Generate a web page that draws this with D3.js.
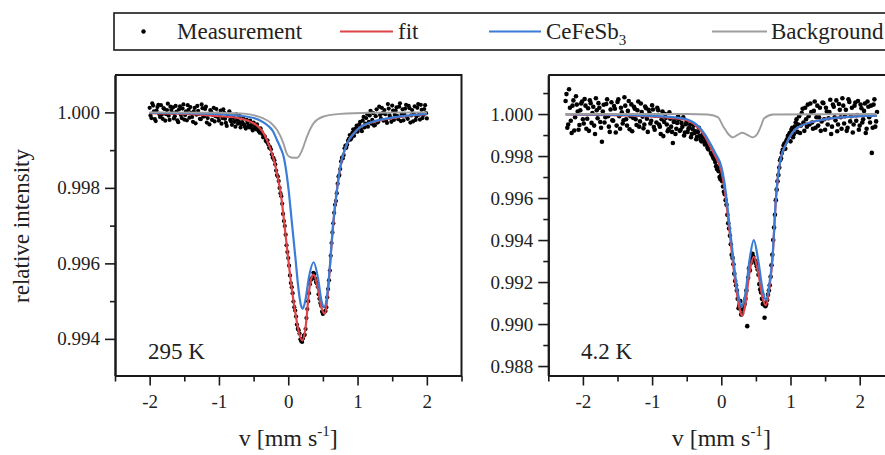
<!DOCTYPE HTML>
<html lang="en">
<head>
	<meta charset="utf-8">
	<script src="https://cdn.jsdelivr.net/npm/d3@7/dist/d3.min.js" charset="utf-8"></script>
	<style>
		body { margin: 0; background: #fff; }
		svg { display: block; font-family: "Liberation Serif", "Times New Roman", serif; }
	</style>
</head>
<body>
<script>

	// axis ticks
	var xTicks = [-2, -1, 0, 1, 2];
	var xMinor = [-2.5, -1.5, -0.5, 0.5, 1.5, 2.5];
	var yTicks295 = [0.994, 0.996, 0.998, 1.000];
	var yMinor295 = [0.995, 0.997, 0.999];
	var yTicks42 = [0.988, 0.990, 0.992, 0.994, 0.996, 0.998, 1.000];
	var yMinor42 = [0.989, 0.991, 0.993, 0.995, 0.997, 0.999, 1.001];

	var legendLabels = ["Measurement", "fit", "CeFeSb", "Background"];
	var panelLabels = ["295 K", "4.2 K"];

	// 295 K : [v (mm/s), relative intensity], even channels
	var meas295 = [
		[-2.000,1.00012],[-1.975,0.99985],[-1.950,1.00018],[-1.925,0.99982],[-1.900,1.00005],[-1.875,1.00020],[-1.850,0.99988],[-1.825,0.99994],
		[-1.800,1.00011],[-1.775,0.99978],[-1.750,1.00006],[-1.725,0.99991],[-1.700,1.00015],[-1.675,0.99999],[-1.650,0.99984],[-1.625,1.00017],
		[-1.600,0.99979],[-1.575,1.00008],[-1.550,0.99993],[-1.525,1.00010],[-1.500,0.99981],[-1.475,1.00003],[-1.450,1.00019],[-1.425,0.99986],
		[-1.400,0.99999],[-1.375,0.99975],[-1.350,1.00012],[-1.325,0.99994],[-1.300,1.00004],[-1.275,0.99983],[-1.250,1.00021],[-1.225,0.99989],
		[-1.200,1.00009],[-1.175,0.99973],[-1.150,0.99996],[-1.125,1.00006],[-1.100,0.99980],[-1.075,1.00012],[-1.050,0.99990],[-1.025,0.99997],
		[-1.000,0.99978],[-0.975,1.00005],[-0.950,0.99985],[-0.925,0.99999],[-0.900,0.99972],[-0.875,0.99991],[-0.850,1.00003],[-0.825,0.99976],
		[-0.800,0.99988],[-0.775,0.99975],[-0.750,0.99995],[-0.725,0.99970],[-0.700,0.99990],[-0.675,0.99968],[-0.650,0.99985],[-0.625,0.99962],
		[-0.600,0.99980],[-0.575,0.99964],[-0.550,0.99978],[-0.525,0.99958],[-0.500,0.99973],[-0.475,0.99960],[-0.450,0.99968],[-0.425,0.99950],
		[-0.400,0.99958],[-0.375,0.99943],[-0.350,0.99938],[-0.325,0.99925],[-0.300,0.99926],[-0.275,0.99906],[-0.250,0.99902],[-0.225,0.99880],
		[-0.200,0.99873],[-0.175,0.99846],[-0.150,0.99830],[-0.125,0.99800],[-0.100,0.99778],[-0.075,0.99731],[-0.050,0.99699],[-0.025,0.99648],
		[0.000,0.99614],[0.025,0.99568],[0.050,0.99537],[0.075,0.99499],[0.100,0.99475],[0.125,0.99438],[0.150,0.99423],[0.175,0.99399],
		[0.200,0.99392],[0.225,0.99409],[0.250,0.99426],[0.275,0.99479],[0.300,0.99521],[0.325,0.99556],[0.350,0.99563],[0.375,0.99572],
		[0.400,0.99551],[0.425,0.99538],[0.450,0.99506],[0.475,0.99488],[0.500,0.99466],[0.525,0.99472],[0.550,0.99484],[0.575,0.99532],
		[0.600,0.99581],[0.625,0.99654],[0.650,0.99706],[0.675,0.99755],[0.700,0.99786],[0.725,0.99830],[0.750,0.99850],[0.775,0.99880],
		[0.800,0.99887],[0.825,0.99912],[0.850,0.99914],[0.875,0.99930],[0.900,0.99928],[0.925,0.99946],[0.950,0.99938],[0.975,0.99958],
		[1.000,0.99949],[1.025,0.99968],[1.050,0.99955],[1.075,0.99978],[1.100,0.99960],[1.125,0.99985],[1.150,0.99962],[1.175,0.99992],
		[1.200,0.99970],[1.225,0.99998],[1.250,0.99966],[1.275,1.00008],[1.300,0.99975],[1.325,0.99993],[1.350,1.00012],[1.375,0.99978],
		[1.400,0.99995],[1.425,0.99972],[1.450,1.00010],[1.475,0.99986],[1.500,1.00018],[1.525,0.99980],[1.550,1.00004],[1.575,0.99990],
		[1.600,1.00015],[1.625,0.99977],[1.650,1.00008],[1.675,0.99996],[1.700,1.00020],[1.725,0.99983],[1.750,1.00011],[1.775,0.99992],
		[1.800,0.99976],[1.825,1.00016],[1.850,0.99989],[1.875,1.00022],[1.900,0.99981],[1.925,1.00007],[1.950,0.99993],[1.975,1.00019],
		[2.000,0.99984]
	];
	// 295 K, odd channels
	var meas295b = [
		[-1.9875,0.99992],[-1.9625,1.00024],[-1.9375,1.00003],[-1.9125,0.99977],[-1.8875,1.00014],[-1.8625,0.99996],[-1.8375,1.00019],[-1.8125,0.99983],
		[-1.7875,1.00009],[-1.7625,0.99995],[-1.7375,1.00023],[-1.7125,0.99980],[-1.6875,1.00006],[-1.6625,1.00013],[-1.6375,0.99990],[-1.6125,1.00002],
		[-1.5875,0.99974],[-1.5625,1.00016],[-1.5375,0.99985],[-1.5125,1.00021],[-1.4875,0.99993],[-1.4625,0.99979],[-1.4375,1.00007],[-1.4125,1.00014],
		[-1.3875,0.99988],[-1.3625,1.00003],[-1.3375,0.99971],[-1.3125,1.00017],[-1.2875,0.99996],[-1.2625,0.99982],[-1.2375,1.00011],[-1.2125,0.99990],
		[-1.1875,1.00015],[-1.1625,0.99985],[-1.1375,0.99968],[-1.1125,1.00002],[-1.0875,0.99993],[-1.0625,0.99976],[-1.0375,1.00009],[-1.0125,0.99987],
		[-0.9875,0.99995],[-0.9625,0.99970],[-0.9375,1.00008],[-0.9125,0.99983],[-0.8875,0.99964],[-0.8625,0.99994],[-0.8375,0.99980],[-0.8125,0.99967],
		[-0.7875,0.99985],[-0.7625,0.99962],[-0.7375,0.99980],[-0.7125,0.99976],[-0.6875,0.99960],[-0.6625,0.99974],[-0.6375,0.99968],[-0.6125,0.99957],
		[-0.5875,0.99972],[-0.5625,0.99960],[-0.5375,0.99966],[-0.5125,0.99952],[-0.4875,0.99964],[-0.4625,0.99955],[-0.4375,0.99958],[-0.4125,0.99946],
		[-0.3875,0.99950],[-0.3625,0.99934],[-0.3375,0.99936],[-0.3125,0.99922],[-0.2875,0.99915],[-0.2625,0.99908],[-0.2375,0.99889],[-0.2125,0.99879],
		[-0.1875,0.99862],[-0.1625,0.99834],[-0.1375,0.99818],[-0.1125,0.99786],[-0.0875,0.99758],[-0.0625,0.99712],[-0.0375,0.99676],[-0.0125,0.99630],
		[0.0125,0.99594],[0.0375,0.99548],[0.0625,0.99521],[0.0875,0.99484],[0.1125,0.99459],[0.1375,0.99427],[0.1625,0.99414],[0.1875,0.99394],
		[0.2125,0.99401],[0.2375,0.99411],[0.2625,0.99455],[0.2875,0.99500],[0.3125,0.99545],[0.3375,0.99558],[0.3625,0.99575],[0.3875,0.99560],
		[0.4125,0.99547],[0.4375,0.99518],[0.4625,0.99495],[0.4875,0.99472],[0.5125,0.99470],[0.5375,0.99474],[0.5625,0.99510],[0.5875,0.99555],
		[0.6125,0.99620],[0.6375,0.99682],[0.6625,0.99734],[0.6875,0.99765],[0.7125,0.99811],[0.7375,0.99834],[0.7625,0.99870],[0.7875,0.99878],
		[0.8125,0.99905],[0.8375,0.99906],[0.8625,0.99925],[0.8875,0.99940],[0.9125,0.99932],[0.9375,0.99955],[0.9625,0.99948],[0.9875,0.99965],
		[1.0125,0.99958],[1.0375,0.99975],[1.0625,0.99950],[1.0875,0.99988],[1.1125,0.99970],[1.1375,0.99996],[1.1625,0.99975],[1.1875,1.00004],
		[1.2125,0.99980],[1.2375,0.99965],[1.2625,0.99990],[1.2875,0.99973],[1.3125,1.00015],[1.3375,0.99984],[1.3625,0.99998],[1.3875,1.00006],
		[1.4125,0.99980],[1.4375,1.00022],[1.4625,0.99992],[1.4875,0.99975],[1.5125,1.00005],[1.5375,0.99994],[1.5625,1.00013],[1.5875,0.99982],
		[1.6125,1.00024],[1.6375,0.99995],[1.6625,0.99979],[1.6875,1.00010],[1.7125,0.99988],[1.7375,1.00017],[1.7625,0.99973],[1.7875,1.00006],
		[1.8125,0.99996],[1.8375,0.99980],[1.8625,1.00012],[1.8875,0.99994],[1.9125,1.00020],[1.9375,0.99985],[1.9625,1.00009],[1.9875,0.99998]
	];
	var fit295 = [
		[-2.0,0.99998],[-1.5,0.99996],[-1.0,0.99990],[-0.75,0.99986],[-0.6,0.99979],[-0.5,0.99971],[-0.45,0.99965],[-0.4,0.99956],
		[-0.35,0.99943],[-0.3,0.99923],[-0.25,0.99899],[-0.2,0.99869],[-0.15,0.99827],[-0.1,0.99774],[-0.05,0.99695],[0.0,0.99611],
		[0.05,0.99534],[0.1,0.99472],[0.15,0.99420],[0.2,0.99396],[0.25,0.99430],[0.3,0.99525],[0.33,0.99558],[0.366,0.99570],
		[0.43,0.99530],[0.48,0.99482],[0.525,0.99467],[0.575,0.99528],[0.625,0.99650],[0.675,0.99750],[0.725,0.99825],[0.775,0.99875],
		[0.85,0.99918],[0.95,0.99945],[1.05,0.99962],[1.2,0.99973],[1.4,0.99982],[1.7,0.99990],[2.0,0.99995]
	];
	var comp295 = [
		[-2.0,0.99999],[-1.5,0.99998],[-1.0,0.99995],[-0.75,0.99992],[-0.5,0.99985],[-0.4,0.99978],[-0.3,0.99966],[-0.22,0.99950],
		[-0.163,0.99927],[-0.11,0.99905],[-0.067,0.99883],[-0.03,0.99845],[0.005,0.99795],[0.053,0.99707],[0.101,0.99619],[0.149,0.99530],
		[0.18,0.99492],[0.21,0.99480],[0.25,0.99505],[0.3,0.99565],[0.366,0.99603],[0.43,0.99560],[0.48,0.99500],[0.52,0.99484],
		[0.56,0.99515],[0.6,0.99590],[0.645,0.99700],[0.69,0.99775],[0.75,0.99855],[0.85,0.99918],[0.95,0.99945],[1.05,0.99962],
		[1.2,0.99974],[1.4,0.99983],[1.7,0.99991],[2.0,0.99996]
	];
	var bg295 = [
		[-2.0,1.0],[-1.0,0.99999],[-0.6,0.99996],[-0.45,0.99990],[-0.36,0.99984],[-0.25,0.99972],[-0.16,0.99953],[-0.07,0.99918],
		[-0.02,0.99890],[0.02,0.99882],[0.07,0.99880],[0.13,0.99880],[0.2,0.99900],[0.27,0.99936],[0.365,0.99971],[0.51,0.99989],
		[0.75,0.99996],[1.2,0.99999],[2.0,1.0]
	];

	// 4.2 K, even channels
	var meas42 = [
		[-2.250,1.00062],[-2.225,0.99935],[-2.200,1.00118],[-2.175,0.99968],[-2.150,1.00040],[-2.125,0.99922],[-2.100,1.00085],[-2.075,1.00012],
		[-2.050,0.99948],[-2.025,1.00050],[-2.000,0.99975],[-1.975,1.00072],[-1.950,0.99930],[-1.925,1.00028],[-1.900,1.00066],[-1.875,0.99958],
		[-1.850,1.00035],[-1.825,0.99905],[-1.800,1.00018],[-1.775,1.00052],[-1.750,0.99962],[-1.725,0.99868],[-1.700,1.00044],[-1.675,0.99985],
		[-1.650,1.00070],[-1.625,0.99940],[-1.600,1.00022],[-1.575,0.99970],[-1.550,1.00038],[-1.525,0.99912],[-1.500,1.00058],[-1.475,0.99990],
		[-1.450,1.00030],[-1.425,0.99955],[-1.400,1.00080],[-1.375,0.99975],[-1.350,1.00015],[-1.325,0.99928],[-1.300,1.00046],[-1.275,0.99982],
		[-1.250,1.00025],[-1.225,0.99948],[-1.200,1.00060],[-1.175,0.99965],[-1.150,1.00010],[-1.125,0.99932],[-1.100,1.00036],[-1.075,0.99978],
		[-1.050,1.00020],[-1.025,0.99955],[-1.000,1.00042],[-0.975,0.99938],[-0.950,0.99992],[-0.925,1.00030],[-0.900,0.99950],[-0.875,0.99905],
		[-0.850,1.00012],[-0.825,0.99962],[-0.800,0.99982],[-0.775,0.99918],[-0.750,1.00008],[-0.725,0.99940],[-0.700,0.99862],[-0.675,0.99975],
		[-0.650,0.99930],[-0.625,0.99990],[-0.600,0.99920],[-0.575,0.99958],[-0.550,0.99985],[-0.525,0.99912],[-0.500,0.99965],[-0.475,0.99930],
		[-0.450,0.99950],[-0.425,0.99905],[-0.400,0.99945],[-0.375,0.99918],[-0.350,0.99892],[-0.325,0.99935],[-0.300,0.99878],[-0.275,0.99900],
		[-0.250,0.99868],[-0.225,0.99872],[-0.200,0.99840],[-0.175,0.99850],[-0.150,0.99815],[-0.125,0.99800],[-0.100,0.99785],[-0.075,0.99752],
		[-0.050,0.99745],[-0.025,0.99700],[0.000,0.99712],[0.025,0.99655],[0.050,0.99618],[0.075,0.99568],[0.100,0.99480],[0.125,0.99420],
		[0.150,0.99330],[0.175,0.99285],[0.200,0.99205],[0.225,0.99160],[0.250,0.99075],[0.275,0.99110],[0.300,0.99050],[0.325,0.99085],
		[0.350,0.99120],[0.375,0.98990],[0.400,0.99265],[0.425,0.99290],[0.450,0.99335],[0.475,0.99305],[0.500,0.99290],[0.525,0.99260],
		[0.550,0.99190],[0.575,0.99150],[0.600,0.99095],[0.625,0.99030],[0.650,0.99095],[0.675,0.99140],[0.700,0.99185],[0.725,0.99280],
		[0.750,0.99400],[0.775,0.99520],[0.800,0.99640],[0.825,0.99710],[0.850,0.99780],[0.875,0.99815],[0.900,0.99850],[0.925,0.99835],
		[0.950,0.99880],[0.975,0.99900],[1.000,0.99870],[1.025,0.99935],[1.050,0.99905],[1.075,0.99960],[1.100,0.99915],[1.125,0.99990],
		[1.150,0.99945],[1.175,1.00025],[1.200,0.99920],[1.225,0.99975],[1.250,1.00045],[1.275,0.99950],[1.300,1.00010],[1.325,0.99930],
		[1.350,1.00060],[1.375,0.99985],[1.400,0.99945],[1.425,1.00030],[1.450,0.99965],[1.475,1.00052],[1.500,0.99925],[1.525,1.00012],
		[1.550,0.99980],[1.575,1.00068],[1.600,0.99940],[1.625,1.00035],[1.650,0.99970],[1.675,0.99918],[1.700,1.00048],[1.725,0.99985],
		[1.750,1.00075],[1.775,0.99955],[1.800,1.00020],[1.825,0.99935],[1.850,1.00058],[1.875,0.99990],[1.900,0.99912],[1.925,1.00040],
		[1.950,0.99968],[1.975,1.00062],[2.000,0.99945],[2.025,1.00028],[2.050,0.99975],[2.075,1.00050],[2.100,0.99930],[2.125,1.00035],
		[2.150,0.99960],[2.175,0.99815],[2.200,1.00045],[2.225,0.99940],[2.250,1.00010]
	];
	// 4.2 K, odd channels
	var meas42b = [
		[-2.2375,1.00095],[-2.2125,0.99950],[-2.1875,1.00030],[-2.1625,0.99910],[-2.1375,1.00065],[-2.1125,0.99985],[-2.0875,1.00045],[-2.0625,0.99925],
		[-2.0375,1.00018],[-2.0125,1.00060],[-1.9875,0.99955],[-1.9625,1.00040],[-1.9375,0.99978],[-1.9125,0.99920],[-1.8875,1.00052],[-1.8625,1.00005],
		[-1.8375,0.99945],[-1.8125,1.00075],[-1.7875,0.99980],[-1.7625,1.00030],[-1.7375,0.99935],[-1.7125,1.00012],[-1.6875,0.99960],[-1.6625,1.00048],
		[-1.6375,0.99990],[-1.6125,0.99915],[-1.5875,1.00056],[-1.5625,0.99968],[-1.5375,1.00025],[-1.5125,0.99945],[-1.4875,1.00070],[-1.4625,0.99930],
		[-1.4375,1.00008],[-1.4125,0.99970],[-1.3875,1.00040],[-1.3625,0.99945],[-1.3375,1.00062],[-1.3125,0.99990],[-1.2875,0.99918],[-1.2625,1.00035],
		[-1.2375,0.99975],[-1.2125,1.00018],[-1.1875,0.99940],[-1.1625,1.00050],[-1.1375,0.99988],[-1.1125,0.99950],[-1.0875,1.00028],[-1.0625,0.99915],
		[-1.0375,1.00005],[-1.0125,0.99968],[-0.9875,1.00022],[-0.9625,0.99925],[-0.9375,0.99960],[-0.9125,1.00018],[-0.8875,0.99940],[-0.8625,0.99975],
		[-0.8375,0.99895],[-0.8125,1.00000],[-0.7875,0.99950],[-0.7625,0.99928],[-0.7375,0.99978],[-0.7125,0.99915],[-0.6875,0.99962],[-0.6625,0.99905],
		[-0.6375,0.99958],[-0.6125,0.99975],[-0.5875,0.99925],[-0.5625,0.99940],[-0.5375,0.99898],[-0.5125,0.99952],[-0.4875,0.99915],[-0.4625,0.99935],
		[-0.4375,0.99890],[-0.4125,0.99928],[-0.3875,0.99910],[-0.3625,0.99880],[-0.3375,0.99915],[-0.3125,0.99895],[-0.2875,0.99870],[-0.2625,0.99888],
		[-0.2375,0.99855],[-0.2125,0.99860],[-0.1875,0.99832],[-0.1625,0.99845],[-0.1375,0.99808],[-0.1125,0.99790],[-0.0875,0.99772],[-0.0625,0.99738],
		[-0.0375,0.99728],[-0.0125,0.99690],[0.0125,0.99680],[0.0375,0.99630],[0.0625,0.99590],[0.0875,0.99520],[0.1125,0.99455],[0.1375,0.99380],
		[0.1625,0.99315],[0.1875,0.99240],[0.2125,0.99185],[0.2375,0.99120],[0.2625,0.99090],[0.2875,0.99045],[0.3125,0.99070],[0.3375,0.99095],
		[0.3625,0.99160],[0.3875,0.99220],[0.4125,0.99255],[0.4375,0.99310],[0.4625,0.99320],[0.4875,0.99300],[0.5125,0.99275],[0.5375,0.99235],
		[0.5625,0.99165],[0.5875,0.99120],[0.6125,0.99100],[0.6375,0.99085],[0.6625,0.99115],[0.6875,0.99160],[0.7125,0.99225],[0.7375,0.99330],
		[0.7625,0.99460],[0.7875,0.99590],[0.8125,0.99680],[0.8375,0.99745],[0.8625,0.99790],[0.8875,0.99830],[0.9125,0.99860],[0.9375,0.99870],
		[0.9625,0.99895],[0.9875,0.99910],[1.0125,0.99925],[1.0375,0.99890],[1.0625,0.99940],[1.0875,0.99975],[1.1125,0.99950],[1.1375,0.99910],
		[1.1625,1.00005],[1.1875,0.99960],[1.2125,1.00030],[1.2375,0.99940],[1.2625,0.99990],[1.2875,1.00050],[1.3125,0.99960],[1.3375,1.00015],
		[1.3625,0.99935],[1.3875,1.00040],[1.4125,0.99985],[1.4375,0.99920],[1.4625,1.00055],[1.4875,0.99975],[1.5125,1.00030],[1.5375,0.99950],
		[1.5625,1.00010],[1.5875,0.99905],[1.6125,1.00045],[1.6375,0.99985],[1.6625,1.00065],[1.6875,0.99950],[1.7125,1.00020],[1.7375,0.99930],
		[1.7625,1.00040],[1.7875,0.99990],[1.8125,0.99920],[1.8375,1.00070],[1.8625,0.99965],[1.8875,1.00030],[1.9125,0.99950],[1.9375,1.00055],
		[1.9625,0.99995],[1.9875,0.99925],[2.0125,1.00045],[2.0375,0.99960],[2.0625,1.00015],[2.0875,0.99910],[2.1125,1.00060],[2.1375,0.99985],
		[2.1625,1.00040],[2.1875,0.99935],[2.2125,1.00070],[2.2375,0.99965]
	];
	var fit42 = [
		[-2.25,0.99998],[-1.5,0.99994],[-1.0,0.99988],[-0.7,0.99981],[-0.5,0.99971],[-0.4,0.99955],[-0.31,0.99926],[-0.23,0.99890],
		[-0.16,0.99846],[-0.08,0.99795],[0.0,0.99730],[0.04,0.99660],[0.075,0.99570],[0.11,0.99470],[0.145,0.99360],[0.215,0.99170],
		[0.26,0.99080],[0.30,0.99038],[0.35,0.99100],[0.41,0.99250],[0.47,0.99320],[0.53,0.99250],[0.6,0.99120],[0.645,0.99090],
		[0.69,0.99160],[0.74,0.99310],[0.79,0.99600],[0.85,0.99772],[0.95,0.99865],[1.1,0.99935],[1.45,0.99972],[2.0,0.99990],
		[2.25,0.99992]
	];
	var comp42 = [
		[-2.25,0.99999],[-1.5,0.99996],[-1.0,0.99991],[-0.7,0.99985],[-0.5,0.99975],[-0.4,0.99960],[-0.31,0.99935],[-0.23,0.99900],
		[-0.16,0.99860],[-0.08,0.99810],[0.0,0.99750],[0.04,0.99685],[0.075,0.99600],[0.11,0.99495],[0.145,0.99395],[0.215,0.99200],
		[0.26,0.99115],[0.30,0.99082],[0.35,0.99150],[0.41,0.99310],[0.47,0.99400],[0.53,0.99310],[0.6,0.99160],[0.645,0.99114],
		[0.69,0.99180],[0.74,0.99320],[0.79,0.99600],[0.85,0.99772],[0.95,0.99865],[1.1,0.99935],[1.45,0.99972],[2.0,0.99990],
		[2.25,0.99992]
	];
	var bg42 = [
		[-2.25,1.0],[-0.5,1.0],[-0.2,0.99998],[-0.05,0.99985],[0.03,0.99940],[0.1,0.99905],[0.17,0.99889],[0.24,0.99902],
		[0.30,0.99911],[0.37,0.99902],[0.45,0.99889],[0.52,0.99905],[0.57,0.99940],[0.62,0.99980],[0.75,0.99998],[2.25,1.0]
	];

	var w = 885;
	var h = 455;
	var plotTop = 75;
	var plotBottom = 375.5;
	var red = "#de4449";
	var blue = "#3b7dd6";
	var gray = "#9e9e9e";
	var ink = "#1a1a1a";

	var svg = d3.select("body")
				.append("svg")
				.attr("width", w)
				.attr("height", h);

	drawLegend();

	drawPanel({
		left: 115, width: 346.5, yDomain: [0.99303, 1.00099],
		yTicks: yTicks295, yMinor: yMinor295,
		meas: meas295.concat(meas295b), fit: fit295, comp: comp295, bg: bg295,
		label: panelLabels[0], labelX: 148, r: 2.1, yLabel: true
	});

	drawPanel({
		left: 548.3, width: 346, yDomain: [0.98755, 1.00186],
		yTicks: yTicks42, yMinor: yMinor42,
		meas: meas42.concat(meas42b), fit: fit42, comp: comp42, bg: bg42,
		label: panelLabels[1], labelX: 581, r: 2.3, yLabel: false
	});

	function drawPanel(o) {
		var xScale = d3.scaleLinear().domain([-2.5, 2.5]).range([o.left, o.left + o.width]);
		var yScale = d3.scaleLinear().domain(o.yDomain).range([plotBottom, plotTop]);

		var g = svg.append("g");

		// open frame: top and right edges
		g.append("path")
			.attr("d", "M" + o.left + "," + plotTop + "H" + (o.left + o.width) + "V" + plotBottom)
			.attr("fill", "none")
			.attr("stroke", ink)
			.attr("stroke-width", 2);

		g.selectAll("circle")
			.data(o.meas)
			.enter()
			.append("circle")
			.attr("cx", function(d) { return xScale(d[0]); })
			.attr("cy", function(d) { return yScale(d[1]); })
			.attr("r", o.r)
			.attr("fill", "#000");

		var line = d3.line()
				.x(function(d) { return xScale(d[0]); })
				.y(function(d) { return yScale(d[1]); })
				.curve(d3.curveMonotoneX);

		[[o.fit, red, 2.2], [o.comp, blue, 2.2], [o.bg, gray, 1.9]].forEach(function(s) {
			g.append("path")
				.attr("d", line(s[0]))
				.attr("fill", "none")
				.attr("stroke", s[1])
				.attr("stroke-width", s[2]);
		});

		// minor ticks then major ticks with labels
		g.append("g")
			.attr("transform", "translate(0," + plotBottom + ")")
			.call(d3.axisBottom(xScale).tickValues(xMinor).tickSize(6).tickSizeOuter(0).tickFormat(""));
		g.append("g")
			.attr("class", "xaxis")
			.attr("transform", "translate(0," + plotBottom + ")")
			.call(d3.axisBottom(xScale).tickValues(xTicks).tickSize(10).tickSizeOuter(0).tickPadding(9)
				.tickFormat(function(d) { return String(d); }));

		g.append("g")
			.attr("transform", "translate(" + o.left + ",0)")
			.call(d3.axisLeft(yScale).tickValues(o.yMinor).tickSize(5).tickSizeOuter(0).tickFormat(""));
		g.append("g")
			.attr("class", "yaxis")
			.attr("transform", "translate(" + o.left + ",0)")
			.call(d3.axisLeft(yScale).tickValues(o.yTicks).tickSize(10).tickSizeOuter(0).tickPadding(5)
				.tickFormat(d3.format(".3f")));

		g.selectAll(".domain").attr("stroke", ink).attr("stroke-width", 2);
		g.selectAll(".tick line").attr("stroke", ink).attr("stroke-width", 1.6);
		g.selectAll(".tick text")
			.attr("fill", "#222")
			.style("font-family", "'Liberation Serif', 'Times New Roman', serif")
			.style("font-size", "19px");

		g.append("text")
			.attr("x", o.labelX)
			.attr("y", 358.5)
			.attr("fill", "#222")
			.style("font-size", "23px")
			.text(o.label);

		var title = g.append("text")
			.attr("x", xScale(0))
			.attr("y", 446)
			.attr("text-anchor", "middle")
			.attr("fill", "#222")
			.style("font-size", "24px");
		title.append("tspan").text("v [mm s");
		title.append("tspan").attr("dy", -10).style("font-size", "15px").text("-1");
		title.append("tspan").attr("dy", 10).text("]");

		if (o.yLabel) {
			svg.append("text")
				.attr("transform", "translate(29,226) rotate(-90)")
				.attr("text-anchor", "middle")
				.attr("fill", "#222")
				.style("font-size", "23px")
				.text("relative intensity");
		}
	}

	function drawLegend() {
		var lg = svg.append("g");
		var ly = 31.5;

		lg.append("rect")
			.attr("x", 114)
			.attr("y", 13)
			.attr("width", 800)
			.attr("height", 37)
			.attr("fill", "#fff")
			.attr("stroke", ink)
			.attr("stroke-width", 1.6);

		lg.append("circle").attr("cx", 143.5).attr("cy", ly).attr("r", 2.2).attr("fill", "#000");

		var swatches = [[340, 393, red], [489, 541, blue], [712, 767, gray]];
		swatches.forEach(function(s) {
			lg.append("line")
				.attr("x1", s[0]).attr("x2", s[1])
				.attr("y1", ly).attr("y2", ly)
				.attr("stroke", s[2])
				.attr("stroke-width", 2.2);
		});

		var textX = [177, 398, 546, 771];
		legendLabels.forEach(function(t, i) {
			var tx = lg.append("text")
				.attr("x", textX[i])
				.attr("y", 38.5)
				.attr("fill", "#222")
				.style("font-size", "23px")
				.text(t);
			if (i == 2) {
				tx.append("tspan").attr("dy", 6).style("font-size", "15px").text("3");
			}
		});
	}
</script>
</body>
</html>
